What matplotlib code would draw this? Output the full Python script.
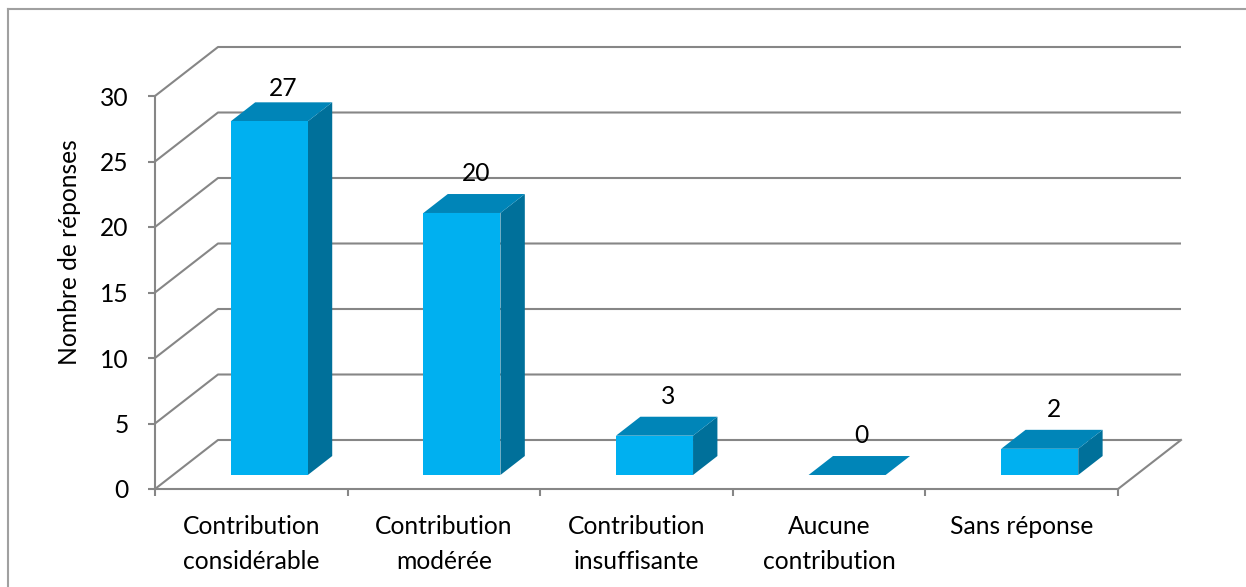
import matplotlib
matplotlib.use("Agg")
import matplotlib.pyplot as plt
from matplotlib.patches import Polygon
from matplotlib.lines import Line2D

categories = ["Contribution\nconsidérable", "Contribution\nmodérée",
              "Contribution\ninsuffisante", "Aucune\ncontribution", "Sans réponse"]
values = [27, 20, 3, 0, 2]
y_ticks = [0, 5, 10, 15, 20, 25, 30]
y_label = "Nombre de réponses"

FONT = "Lato"
FS = 17.7
GRID = "#868686"
FRONT = "#00B0F0"
TOP = "#0085B8"
SIDE = "#00709A"

W, H = 1246, 587
fig = plt.figure(figsize=(W / 100, H / 100), dpi=100)
ax = fig.add_axes([155 / W, (H - 489) / H, (1118 - 155) / W, (489 - 96) / H])
n = len(categories)
ymax = max(y_ticks)
ax.set_xlim(0, n)
ax.set_ylim(0, ymax)

# depth offsets (in data units)
DX = 63 / (1118 - 155) * n
DY = 49 / (489 - 96) * ymax


def proj(x, y, d):
    return (x + d * DX, y + d * DY)


# walls / gridlines
for v in y_ticks:
    xs, ys = zip(proj(0, v, 0), proj(0, v, 1), proj(n, v, 1))
    ax.plot(xs, ys, color=GRID, lw=1.5, clip_on=False, zorder=1, solid_capstyle="butt")
xs, ys = zip(proj(n, 0, 0), proj(n, 0, 1))
ax.plot(xs, ys, color=GRID, lw=1.5, clip_on=False, zorder=1)

# bars
bw = 0.4
d0, d1 = 0.286, 0.673
gap = 1.0  # label gap above bar top (value units)
for i, v in enumerate(values):
    xl = i + 0.5 - bw / 2
    xr = i + 0.5 + bw / 2
    side = [proj(xr, 0, d0), proj(xr, 0, d1), proj(xr, v, d1), proj(xr, v, d0)]
    top = [proj(xl, v, d0), proj(xr, v, d0), proj(xr, v, d1), proj(xl, v, d1)]
    front = [proj(xl, 0, d0), proj(xr, 0, d0), proj(xr, v, d0), proj(xl, v, d0)]
    for pts, c in ((side, SIDE), (top, TOP), (front, FRONT)):
        ax.add_patch(Polygon(pts, closed=True, facecolor=c, edgecolor="none",
                             clip_on=False, zorder=3))
    _, ly = proj(i + 0.5, v, d1)
    lx = i + 0.5 + 0.5 * (d0 + d1) * DX + 0.01
    ly = min(ly + gap, ymax)
    ax.text(lx, ly, str(v), ha="center", va="baseline",
            fontsize=FS, family=FONT, color="black", zorder=5, clip_on=False)

# axes
for s in ("top", "right"):
    ax.spines[s].set_visible(False)
for s in ("left", "bottom"):
    ax.spines[s].set_color(GRID)
    ax.spines[s].set_linewidth(1.5)
    ax.spines[s].set_zorder(2)
ax.set_facecolor("none")
ax.set_yticks(y_ticks)
ax.set_yticklabels([str(t) for t in y_ticks], family=FONT, fontsize=FS)
ax.tick_params(axis="y", direction="out", length=5, width=1.5, color=GRID, pad=14)
ax.set_xticks(range(n + 1))
ax.set_xticklabels([])
ax.tick_params(axis="x", which="major", direction="out", length=5, width=1.5, color=GRID)
ax.set_xticks([i + 0.5 for i in range(n)], minor=True)
ax.set_xticklabels(categories, minor=True, family=FONT, fontsize=FS, linespacing=1.6)
ax.tick_params(axis="x", which="minor", length=0, pad=19)
ax.set_ylabel(y_label, family=FONT, fontsize=FS)
ax.yaxis.set_label_coords(-0.077, 0.603)

# chart border
fig.add_artist(Line2D([8 / W, 8 / W], [0, 1 - 9 / H], transform=fig.transFigure,
                      color="#A0A0A0", lw=1.5))
fig.add_artist(Line2D([8 / W, 1], [1 - 9 / H, 1 - 9 / H], transform=fig.transFigure,
                      color="#A0A0A0", lw=1.5))

fig.savefig("out.png", dpi=100, facecolor="white")
